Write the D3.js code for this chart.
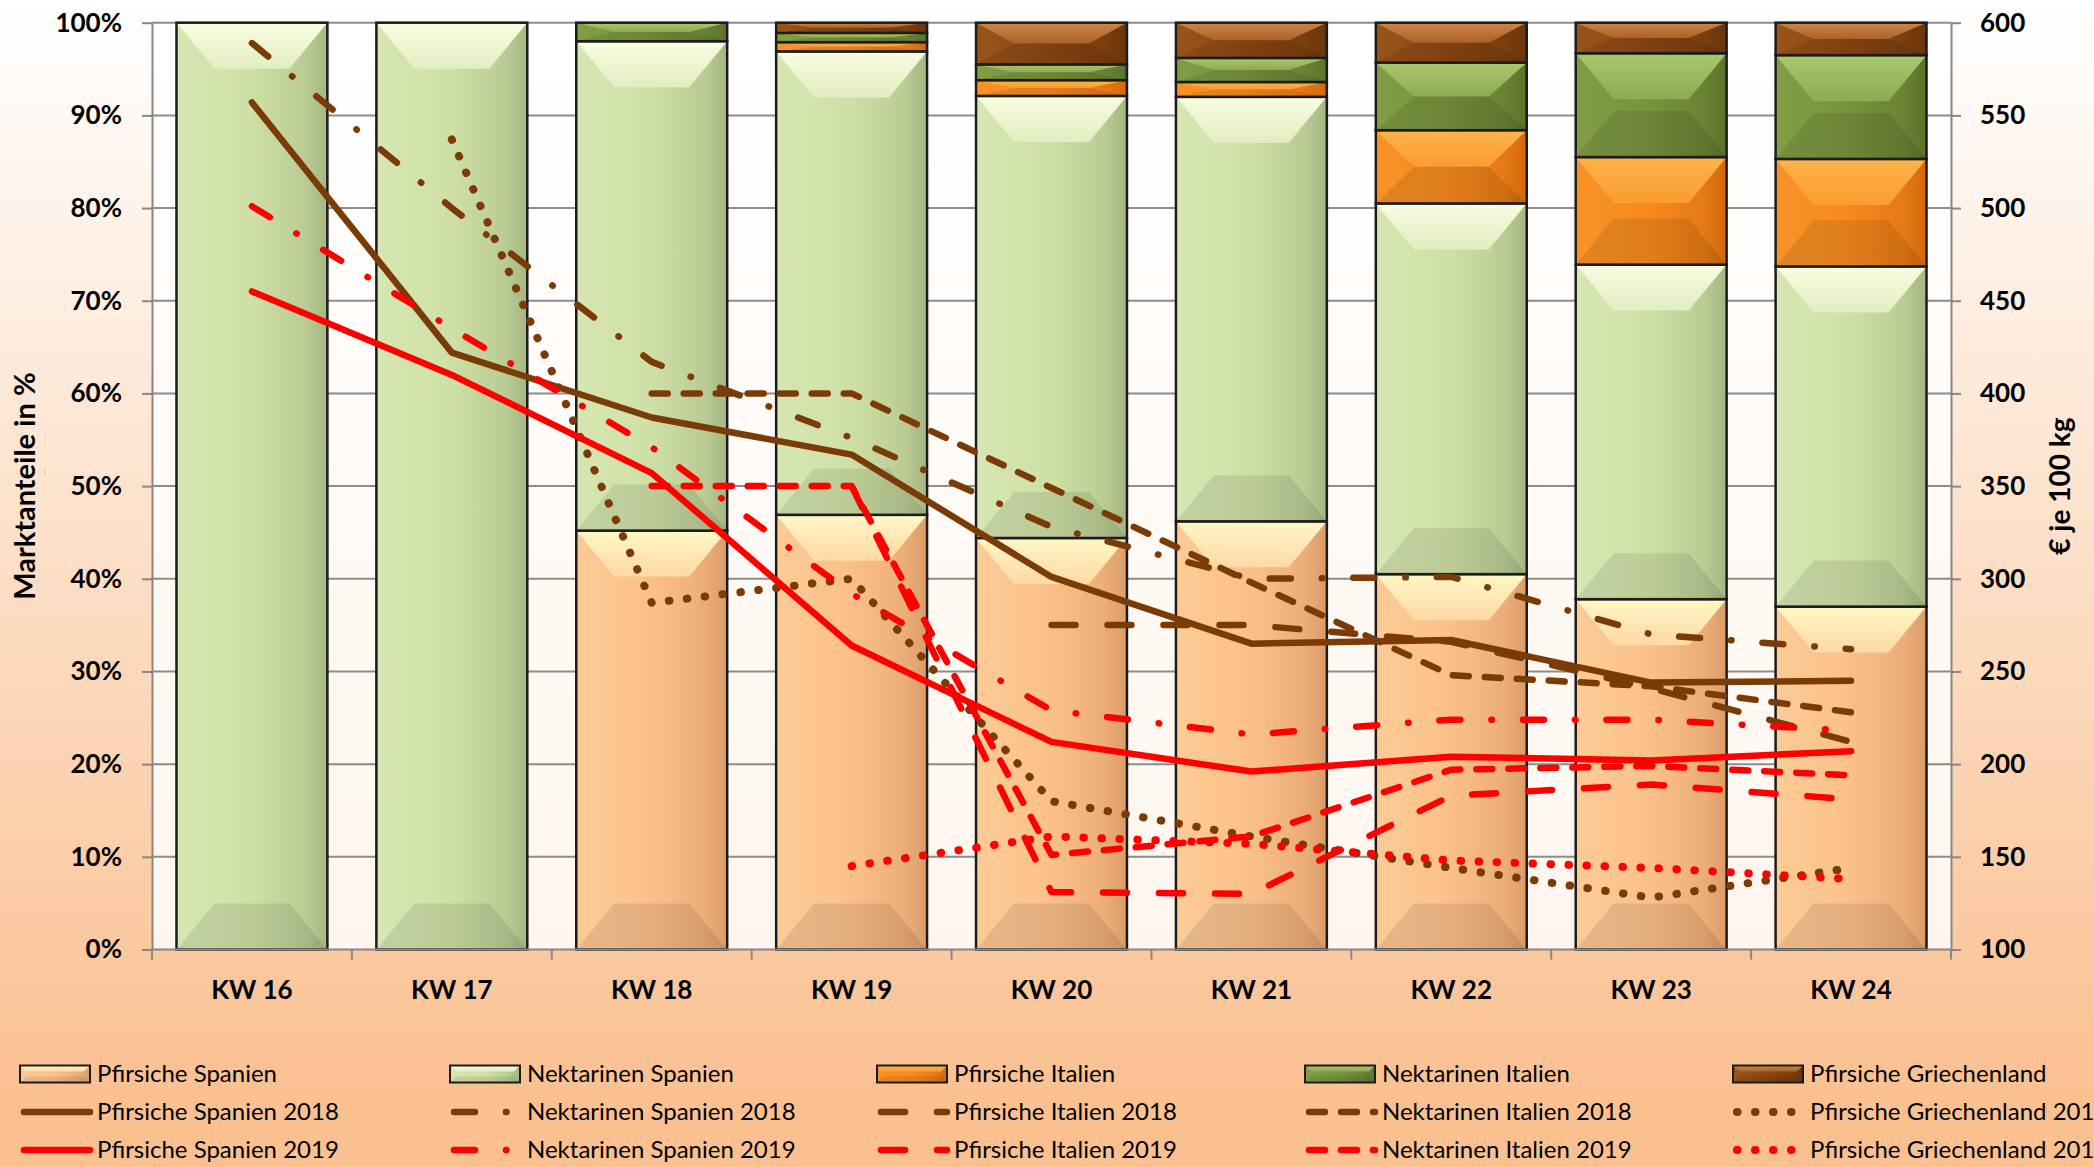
<!DOCTYPE html>
<html>
<head>
<meta charset="utf-8">
<script src="https://d3js.org/d3.v7.min.js"></script>
<style>
body { margin: 0; background: #ffffff; }
svg { display: block; font-family: Lato, "Open Sans", sans-serif; }
</style>
</head>
<body>
<div id="chart"></div>
<script>
//Categories
var weeks = ["KW 16", "KW 17", "KW 18", "KW 19", "KW 20", "KW 21", "KW 22", "KW 23", "KW 24"];

//Market shares in % (stacked bars, left axis)
var pfirsicheSpanien      = [0, 0, 45.2, 46.9, 44.4, 46.2, 40.5, 37.8, 37.0];
var nektarinenSpanien     = [100, 100, 52.8, 50.0, 47.7, 45.8, 40.0, 36.1, 36.7];
var pfirsicheItalien      = [0, 0, 0, 1.0, 1.7, 1.6, 7.9, 11.6, 11.6];
var nektarinenItalien     = [0, 0, 2.0, 1.0, 1.7, 2.6, 7.3, 11.2, 11.2];
var pfirsicheGriechenland = [0, 0, 0, 1.1, 4.5, 3.8, 4.3, 3.3, 3.5];

//Prices in EUR per 100 kg (lines, right axis)
var pfSpanien2018      = [557, 422, 387, 367, 301, 265, 267, 244, 245];
var nekSpanien2018     = [589, 500, 417, 376, 328, 300, 301, 270, 262];
var pfItalien2018      = [null, null, null, null, 275, 275, 266, 241, 212];
var nekItalien2018     = [null, null, 400, 400, 349, 298, 248, 242, 228];
var pfGriechenland2018 = [null, 537, 287, 300, 180, 161, 144, 128, 144];
var pfSpanien2019      = [455, 410, 357, 264, 212, 196, 204, 202, 207];
var nekSpanien2019     = [501, 435, 371, 292, 229, 216, 224, 224, 218];
var pfItalien2019      = [null, null, null, 350, 131, 130, 183, 189, 181];
var nekItalien2019     = [null, null, 350, 350, 151, 161, 197, 199, 194];
var pfGriechenland2019 = [null, null, null, 145, 161, 157, 148, 144, 138];

//Axis ticks
var pctTicks = [0, 10, 20, 30, 40, 50, 60, 70, 80, 90, 100];
var priceTicks = [100, 150, 200, 250, 300, 350, 400, 450, 500, 550, 600];

//Width and height
var w = 2094;
var h = 1167;
var plotLeft = 152, plotRight = 1951, plotTop = 22.7, plotBottom = 949.5;

var barKeys = ["ps", "ns", "pi", "ni", "pg"];
var barNames = ["Pfirsiche Spanien", "Nektarinen Spanien", "Pfirsiche Italien", "Nektarinen Italien", "Pfirsiche Griechenland"];
var barColors = {
	ps: { base: "#fbc08a", light: "#fff7c6", dark: "#dc9c68" },
	ns: { base: "#cfe0a6", light: "#f9fce2", dark: "#a4b782" },
	pi: { base: "#f7891e", light: "#fdb449", dark: "#d2680c" },
	ni: { base: "#77933c", light: "#a9c86c", dark: "#5a722c" },
	pg: { base: "#8c4712", light: "#cd8646", dark: "#6a340a" }
};
var brown = "#7a3b07";
var red = "#ff0000";

var dashes = {
	solid: null,
	dashDot: "21,31,0.5,31",
	longDash: "24,32",
	dash: "16,16",
	dot: "0.5,17.5"
};

var priceSeries = [
	{ name: "Pfirsiche Spanien 2018", values: pfSpanien2018, color: brown, dash: dashes.solid },
	{ name: "Nektarinen Spanien 2018", values: nekSpanien2018, color: brown, dash: dashes.dashDot },
	{ name: "Pfirsiche Italien 2018", values: pfItalien2018, color: brown, dash: dashes.longDash },
	{ name: "Nektarinen Italien 2018", values: nekItalien2018, color: brown, dash: dashes.dash },
	{ name: "Pfirsiche Griechenland 2018", values: pfGriechenland2018, color: brown, dash: dashes.dot },
	{ name: "Pfirsiche Spanien 2019", values: pfSpanien2019, color: red, dash: dashes.solid },
	{ name: "Nektarinen Spanien 2019", values: nekSpanien2019, color: red, dash: dashes.dashDot },
	{ name: "Pfirsiche Italien 2019", values: pfItalien2019, color: red, dash: dashes.longDash },
	{ name: "Nektarinen Italien 2019", values: nekItalien2019, color: red, dash: dashes.dash },
	{ name: "Pfirsiche Griechenland 2019", values: pfGriechenland2019, color: red, dash: dashes.dot }
];

//dots are drawn a little fatter than the other lines
function lineWidth(s) {
	return s.dash === dashes.dot ? 8 : 6.5;
}

//Create SVG element
var svg = d3.select("#chart")
			.append("svg")
			.attr("width", w)
			.attr("height", h);

var defs = svg.append("defs");

//background: white at the top, peach at the bottom
var bg = defs.append("linearGradient")
	.attr("id", "bg")
	.attr("x1", 0).attr("y1", 0).attr("x2", 0).attr("y2", 1);
bg.append("stop").attr("offset", "0%").attr("stop-color", "#ffffff");
bg.append("stop").attr("offset", "95%").attr("stop-color", "#fac090");

//gradients for the bevelled bars
barKeys.forEach(function(k) {
	var c = barColors[k];
	var side = defs.append("linearGradient").attr("id", "side-" + k)
		.attr("x1", 0).attr("y1", 0).attr("x2", 1).attr("y2", 0);
	side.append("stop").attr("offset", "0%").attr("stop-color", d3.interpolateRgb(c.base, c.light)(0.2));
	side.append("stop").attr("offset", "50%").attr("stop-color", c.base);
	side.append("stop").attr("offset", "85%").attr("stop-color", d3.interpolateRgb(c.base, c.dark)(0.5));
	side.append("stop").attr("offset", "100%").attr("stop-color", c.dark);

	var top = defs.append("linearGradient").attr("id", "top-" + k)
		.attr("x1", 0).attr("y1", 0).attr("x2", 0).attr("y2", 1);
	top.append("stop").attr("offset", "0%").attr("stop-color", c.light);
	top.append("stop").attr("offset", "100%").attr("stop-color", d3.interpolateRgb(c.light, c.base)(0.55));
});

svg.append("rect")
	.attr("width", w)
	.attr("height", h)
	.attr("fill", "url(#bg)");

//plot area
svg.append("rect")
	.attr("x", plotLeft)
	.attr("y", plotTop)
	.attr("width", plotRight - plotLeft)
	.attr("height", plotBottom - plotTop)
	.attr("fill", "#ffffff")
	.attr("fill-opacity", 0.82);

//Scales
var x = d3.scaleBand()
	.domain(weeks)
	.range([plotLeft, plotRight])
	.paddingInner(0.245)
	.paddingOuter(0.1225);

var yPct = d3.scaleLinear()
	.domain([0, 100])
	.range([plotBottom, plotTop]);

var yPrice = d3.scaleLinear()
	.domain([100, 600])
	.range([plotBottom, plotTop]);

//gridlines
svg.append("g")
	.selectAll("line")
	.data(pctTicks.slice(1))
	.enter()
	.append("line")
	.attr("x1", plotLeft)
	.attr("x2", plotRight)
	.attr("y1", function(d) { return yPct(d); })
	.attr("y2", function(d) { return yPct(d); })
	.attr("stroke", "#8c8c8c")
	.attr("stroke-width", 2);

//one bevelled block (bar segment or legend key)
function bevelBlock(g, k, bx, by, bw, bh, depth, inset, strokeW) {
	var d = Math.min(depth, bh / 2);
	var s = Math.min(inset, bw / 2);
	g.append("rect")
		.attr("x", bx).attr("y", by)
		.attr("width", bw).attr("height", bh)
		.attr("fill", "url(#side-" + k + ")");
	g.append("polygon")
		.attr("points", [[bx, by], [bx + bw, by], [bx + bw - s, by + d], [bx + s, by + d]].join(" "))
		.attr("fill", "url(#top-" + k + ")");
	g.append("polygon")
		.attr("points", [[bx, by + bh], [bx + bw, by + bh], [bx + bw - s, by + bh - d], [bx + s, by + bh - d]].join(" "))
		.attr("fill", "#000000")
		.attr("fill-opacity", 0.09);
	g.append("rect")
		.attr("x", bx).attr("y", by)
		.attr("width", bw).attr("height", bh)
		.attr("fill", "none")
		.attr("stroke", "#1c1c1c")
		.attr("stroke-width", strokeW);
}

//stacked bars
var shareRows = weeks.map(function(wk, i) {
	return {
		week: wk,
		ps: pfirsicheSpanien[i],
		ns: nektarinenSpanien[i],
		pi: pfirsicheItalien[i],
		ni: nektarinenItalien[i],
		pg: pfirsicheGriechenland[i]
	};
});
var stacked = d3.stack().keys(barKeys)(shareRows);

var bars = svg.append("g");
stacked.forEach(function(layer) {
	layer.forEach(function(seg) {
		if (seg[1] - seg[0] <= 0) return;
		var y0 = yPct(seg[1]);
		var y1 = yPct(seg[0]);
		bevelBlock(bars, layer.key, x(seg.data.week), y0, x.bandwidth(), y1 - y0, 46, 38, 2.5);
	});
});

//axes
var axisColor = "#868686";

var leftAxis = svg.append("g")
	.attr("transform", "translate(" + plotLeft + ",0)")
	.call(d3.axisLeft(yPct)
		.tickValues(pctTicks)
		.tickFormat(function(d) { return d + "%"; })
		.tickSize(10)
		.tickSizeOuter(0)
		.tickPadding(20));

var rightAxis = svg.append("g")
	.attr("transform", "translate(" + plotRight + ",0)")
	.call(d3.axisRight(yPrice)
		.tickValues(priceTicks)
		.tickSize(10)
		.tickSizeOuter(0)
		.tickPadding(19));

var bottomAxis = svg.append("g")
	.attr("transform", "translate(0," + plotBottom + ")")
	.call(d3.axisBottom(x)
		.tickSize(0)
		.tickPadding(31));
bottomAxis.select(".domain").remove();

//category boundary ticks
svg.append("g")
	.selectAll("line")
	.data(d3.range(weeks.length + 1))
	.enter()
	.append("line")
	.attr("x1", function(i) { return plotLeft + i * x.step(); })
	.attr("x2", function(i) { return plotLeft + i * x.step(); })
	.attr("y1", plotBottom)
	.attr("y2", plotBottom + 10)
	.attr("stroke", axisColor)
	.attr("stroke-width", 2);

svg.append("line")
	.attr("x1", plotLeft)
	.attr("x2", plotRight)
	.attr("y1", plotBottom)
	.attr("y2", plotBottom)
	.attr("stroke", axisColor)
	.attr("stroke-width", 2);

[leftAxis, rightAxis].forEach(function(a) {
	a.selectAll(".domain, .tick line")
		.attr("stroke", axisColor)
		.attr("stroke-width", 2);
});
[leftAxis, rightAxis, bottomAxis].forEach(function(a) {
	a.selectAll("text")
		.attr("fill", "#000000")
		.style("font-family", "Lato, 'Open Sans', sans-serif")
		.style("font-size", "26px")
		.style("font-weight", "bold");
});

//price lines
var line = d3.line()
	.defined(function(d) { return d != null; })
	.x(function(d, i) { return x(weeks[i]) + x.bandwidth() / 2; })
	.y(function(d) { return yPrice(d); });

svg.append("g")
	.selectAll("path")
	.data(priceSeries)
	.enter()
	.append("path")
	.attr("d", function(s) { return line(s.values); })
	.attr("fill", "none")
	.attr("stroke", function(s) { return s.color; })
	.attr("stroke-width", lineWidth)
	.attr("stroke-linecap", "round")
	.attr("stroke-linejoin", "round")
	.attr("stroke-dasharray", function(s) { return s.dash; });

//axis titles
svg.append("text")
	.attr("transform", "translate(35," + ((plotTop + plotBottom) / 2) + ") rotate(-90)")
	.attr("text-anchor", "middle")
	.attr("font-size", "29px")
	.attr("font-weight", "bold")
	.text("Marktanteile in %");

svg.append("text")
	.attr("transform", "translate(2070," + ((plotTop + plotBottom) / 2) + ") rotate(-90)")
	.attr("text-anchor", "middle")
	.attr("font-size", "28px")
	.attr("font-weight", "bold")
	.text("€ je 100 kg");

//legend
var legendCols = [20, 450, 877, 1305, 1733];
var legendRows = [1074, 1112, 1150];
var legend = svg.append("g");

barKeys.forEach(function(k, i) {
	bevelBlock(legend, k, legendCols[i], legendRows[0] - 8.5, 70, 17, 6, 6, 2);
	legend.append("text")
		.attr("x", legendCols[i] + 77)
		.attr("y", legendRows[0])
		.attr("dy", "0.35em")
		.attr("font-size", "24px")
		.text(barNames[i]);
});

priceSeries.forEach(function(s, i) {
	var col = legendCols[i % 5];
	var row = legendRows[1 + Math.floor(i / 5)];
	legend.append("line")
		.attr("x1", col + 4)
		.attr("x2", col + 70)
		.attr("y1", row)
		.attr("y2", row)
		.attr("stroke", s.color)
		.attr("stroke-width", lineWidth(s))
		.attr("stroke-linecap", "round")
		.attr("stroke-dasharray", s.dash);
	legend.append("text")
		.attr("x", col + 77)
		.attr("y", row)
		.attr("dy", "0.35em")
		.attr("font-size", "24px")
		.text(s.name);
});
</script>
</body>
</html>
